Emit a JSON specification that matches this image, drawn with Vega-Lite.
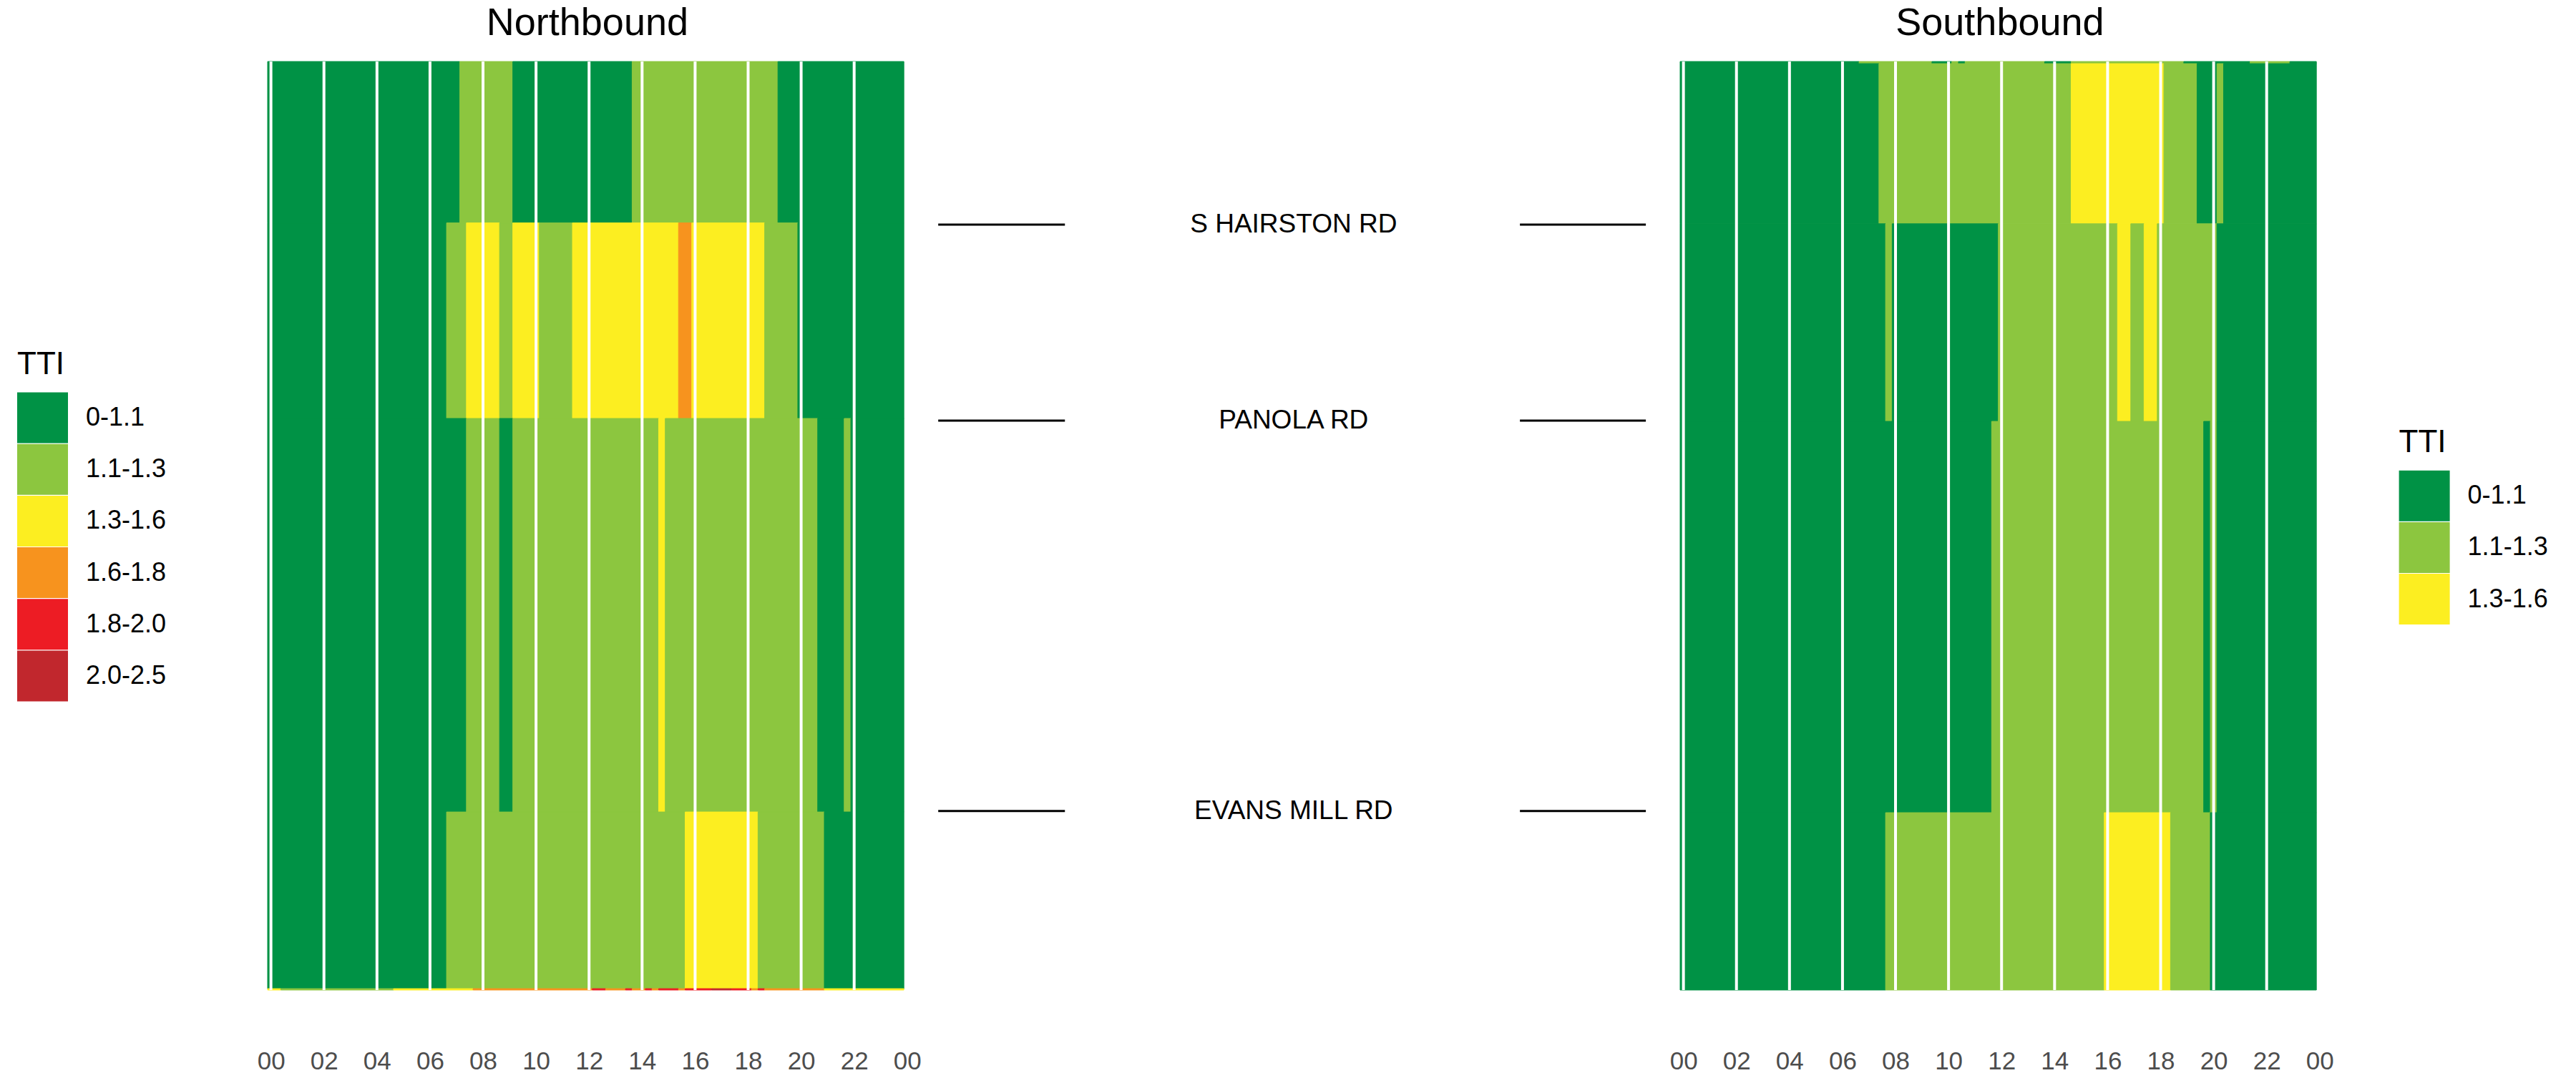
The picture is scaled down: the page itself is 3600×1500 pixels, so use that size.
{
  "$schema": "https://vega.github.io/schema/vega-lite/v6.json",
  "padding": {"left": 24, "top": 6, "right": 0, "bottom": 0},
  "background": "white",
  "config": {
    "font": "Liberation Sans",
    "view": {"stroke": null},
    "title": {"font": "Liberation Sans", "fontWeight": "normal", "color": "black"}
  },
  "datasets": {
    "nb": [
      {"seg": "NB-E", "mile_start": 0, "mile_end": 0.94, "t_start": -0.125, "t_end": 7.125, "tti": "0-1.1"},
      {"seg": "NB-E", "mile_start": 0, "mile_end": 0.94, "t_start": 7.125, "t_end": 9.125, "tti": "1.1-1.3"},
      {"seg": "NB-E", "mile_start": 0, "mile_end": 0.94, "t_start": 9.125, "t_end": 13.625, "tti": "0-1.1"},
      {"seg": "NB-E", "mile_start": 0, "mile_end": 0.94, "t_start": 13.625, "t_end": 19.125, "tti": "1.1-1.3"},
      {"seg": "NB-E", "mile_start": 0, "mile_end": 0.94, "t_start": 19.125, "t_end": 23.875, "tti": "0-1.1"},

      {"seg": "NB-D", "mile_start": 0.94, "mile_end": 2.079, "t_start": -0.125, "t_end": 6.625, "tti": "0-1.1"},
      {"seg": "NB-D", "mile_start": 0.94, "mile_end": 2.079, "t_start": 6.625, "t_end": 7.375, "tti": "1.1-1.3"},
      {"seg": "NB-D", "mile_start": 0.94, "mile_end": 2.079, "t_start": 7.375, "t_end": 8.625, "tti": "1.3-1.6"},
      {"seg": "NB-D", "mile_start": 0.94, "mile_end": 2.079, "t_start": 8.625, "t_end": 9.125, "tti": "1.1-1.3"},
      {"seg": "NB-D", "mile_start": 0.94, "mile_end": 2.079, "t_start": 9.125, "t_end": 10.125, "tti": "1.3-1.6"},
      {"seg": "NB-D", "mile_start": 0.94, "mile_end": 2.079, "t_start": 10.125, "t_end": 11.375, "tti": "1.1-1.3"},
      {"seg": "NB-D", "mile_start": 0.94, "mile_end": 2.079, "t_start": 11.375, "t_end": 15.375, "tti": "1.3-1.6"},
      {"seg": "NB-D", "mile_start": 0.94, "mile_end": 2.079, "t_start": 15.375, "t_end": 15.875, "tti": "1.6-1.8"},
      {"seg": "NB-D", "mile_start": 0.94, "mile_end": 2.079, "t_start": 15.875, "t_end": 18.625, "tti": "1.3-1.6"},
      {"seg": "NB-D", "mile_start": 0.94, "mile_end": 2.079, "t_start": 18.625, "t_end": 19.875, "tti": "1.1-1.3"},
      {"seg": "NB-D", "mile_start": 0.94, "mile_end": 2.079, "t_start": 19.875, "t_end": 23.875, "tti": "0-1.1"},

      {"seg": "NB-C", "mile_start": 2.079, "mile_end": 4.371, "t_start": -0.125, "t_end": 7.375, "tti": "0-1.1"},
      {"seg": "NB-C", "mile_start": 2.079, "mile_end": 4.371, "t_start": 7.375, "t_end": 8.625, "tti": "1.1-1.3"},
      {"seg": "NB-C", "mile_start": 2.079, "mile_end": 4.371, "t_start": 8.625, "t_end": 9.125, "tti": "0-1.1"},
      {"seg": "NB-C", "mile_start": 2.079, "mile_end": 4.371, "t_start": 9.125, "t_end": 14.625, "tti": "1.1-1.3"},
      {"seg": "NB-C", "mile_start": 2.079, "mile_end": 4.371, "t_start": 14.625, "t_end": 14.875, "tti": "1.3-1.6"},
      {"seg": "NB-C", "mile_start": 2.079, "mile_end": 4.371, "t_start": 14.875, "t_end": 20.625, "tti": "1.1-1.3"},
      {"seg": "NB-C", "mile_start": 2.079, "mile_end": 4.371, "t_start": 20.625, "t_end": 21.625, "tti": "0-1.1"},
      {"seg": "NB-C", "mile_start": 2.079, "mile_end": 4.371, "t_start": 21.625, "t_end": 21.875, "tti": "1.1-1.3"},
      {"seg": "NB-C", "mile_start": 2.079, "mile_end": 4.371, "t_start": 21.875, "t_end": 23.875, "tti": "0-1.1"},

      {"seg": "NB-B", "mile_start": 4.371, "mile_end": 5.4, "t_start": -0.125, "t_end": 6.625, "tti": "0-1.1"},
      {"seg": "NB-B", "mile_start": 4.371, "mile_end": 5.4, "t_start": 6.625, "t_end": 15.625, "tti": "1.1-1.3"},
      {"seg": "NB-B", "mile_start": 4.371, "mile_end": 5.4, "t_start": 15.625, "t_end": 18.375, "tti": "1.3-1.6"},
      {"seg": "NB-B", "mile_start": 4.371, "mile_end": 5.4, "t_start": 18.375, "t_end": 20.875, "tti": "1.1-1.3"},
      {"seg": "NB-B", "mile_start": 4.371, "mile_end": 5.4, "t_start": 20.875, "t_end": 23.875, "tti": "0-1.1"},

      {"seg": "NB-A", "mile_start": 5.4, "mile_end": 5.408, "t_start": -0.125, "t_end": 0.375, "tti": "1.3-1.6"},
      {"seg": "NB-A", "mile_start": 5.4, "mile_end": 5.408, "t_start": 0.375, "t_end": 4.625, "tti": "1.1-1.3"},
      {"seg": "NB-A", "mile_start": 5.4, "mile_end": 5.408, "t_start": 4.625, "t_end": 7.625, "tti": "1.3-1.6"},
      {"seg": "NB-A", "mile_start": 5.4, "mile_end": 5.408, "t_start": 7.625, "t_end": 12.125, "tti": "1.6-1.8"},
      {"seg": "NB-A", "mile_start": 5.4, "mile_end": 5.408, "t_start": 12.125, "t_end": 12.625, "tti": "1.8-2.0"},
      {"seg": "NB-A", "mile_start": 5.4, "mile_end": 5.408, "t_start": 12.625, "t_end": 13.375, "tti": "1.6-1.8"},
      {"seg": "NB-A", "mile_start": 5.4, "mile_end": 5.408, "t_start": 13.375, "t_end": 13.625, "tti": "1.8-2.0"},
      {"seg": "NB-A", "mile_start": 5.4, "mile_end": 5.408, "t_start": 13.625, "t_end": 14.125, "tti": "1.6-1.8"},
      {"seg": "NB-A", "mile_start": 5.4, "mile_end": 5.408, "t_start": 14.125, "t_end": 14.375, "tti": "1.8-2.0"},
      {"seg": "NB-A", "mile_start": 5.4, "mile_end": 5.408, "t_start": 14.375, "t_end": 14.625, "tti": "1.6-1.8"},
      {"seg": "NB-A", "mile_start": 5.4, "mile_end": 5.408, "t_start": 14.625, "t_end": 15.375, "tti": "1.8-2.0"},
      {"seg": "NB-A", "mile_start": 5.4, "mile_end": 5.408, "t_start": 15.375, "t_end": 15.625, "tti": "1.6-1.8"},
      {"seg": "NB-A", "mile_start": 5.4, "mile_end": 5.408, "t_start": 15.625, "t_end": 16.625, "tti": "1.8-2.0"},
      {"seg": "NB-A", "mile_start": 5.4, "mile_end": 5.408, "t_start": 16.625, "t_end": 17.375, "tti": "2.0-2.5"},
      {"seg": "NB-A", "mile_start": 5.4, "mile_end": 5.408, "t_start": 17.375, "t_end": 18.125, "tti": "1.8-2.0"},
      {"seg": "NB-A", "mile_start": 5.4, "mile_end": 5.408, "t_start": 18.125, "t_end": 18.375, "tti": "1.6-1.8"},
      {"seg": "NB-A", "mile_start": 5.4, "mile_end": 5.408, "t_start": 18.375, "t_end": 18.625, "tti": "1.8-2.0"},
      {"seg": "NB-A", "mile_start": 5.4, "mile_end": 5.408, "t_start": 18.625, "t_end": 20.875, "tti": "1.6-1.8"},
      {"seg": "NB-A", "mile_start": 5.4, "mile_end": 5.408, "t_start": 20.875, "t_end": 23.875, "tti": "1.3-1.6"}
    ],
    "sb": [
      {"seg": "SB-1", "mile_start": 0, "mile_end": 0.0125, "t_start": -0.125, "t_end": 6.625, "tti": "0-1.1"},
      {"seg": "SB-1", "mile_start": 0, "mile_end": 0.0125, "t_start": 6.625, "t_end": 9.375, "tti": "1.1-1.3"},
      {"seg": "SB-1", "mile_start": 0, "mile_end": 0.0125, "t_start": 9.375, "t_end": 10.125, "tti": "0-1.1"},
      {"seg": "SB-1", "mile_start": 0, "mile_end": 0.0125, "t_start": 10.125, "t_end": 10.375, "tti": "1.1-1.3"},
      {"seg": "SB-1", "mile_start": 0, "mile_end": 0.0125, "t_start": 10.375, "t_end": 10.625, "tti": "0-1.1"},
      {"seg": "SB-1", "mile_start": 0, "mile_end": 0.0125, "t_start": 10.625, "t_end": 13.625, "tti": "1.1-1.3"},
      {"seg": "SB-1", "mile_start": 0, "mile_end": 0.0125, "t_start": 13.625, "t_end": 14.625, "tti": "0-1.1"},
      {"seg": "SB-1", "mile_start": 0, "mile_end": 0.0125, "t_start": 14.625, "t_end": 18.875, "tti": "1.1-1.3"},
      {"seg": "SB-1", "mile_start": 0, "mile_end": 0.0125, "t_start": 18.875, "t_end": 21.375, "tti": "0-1.1"},
      {"seg": "SB-1", "mile_start": 0, "mile_end": 0.0125, "t_start": 21.375, "t_end": 22.875, "tti": "1.1-1.3"},
      {"seg": "SB-1", "mile_start": 0, "mile_end": 0.0125, "t_start": 22.875, "t_end": 23.875, "tti": "0-1.1"},

      {"seg": "SB-2", "mile_start": 0.0125, "mile_end": 0.945, "t_start": -0.125, "t_end": 7.375, "tti": "0-1.1"},
      {"seg": "SB-2", "mile_start": 0.0125, "mile_end": 0.945, "t_start": 7.375, "t_end": 14.625, "tti": "1.1-1.3"},
      {"seg": "SB-2", "mile_start": 0.0125, "mile_end": 0.945, "t_start": 14.625, "t_end": 18.125, "tti": "1.3-1.6"},
      {"seg": "SB-2", "mile_start": 0.0125, "mile_end": 0.945, "t_start": 18.125, "t_end": 19.375, "tti": "1.1-1.3"},
      {"seg": "SB-2", "mile_start": 0.0125, "mile_end": 0.945, "t_start": 19.375, "t_end": 20.125, "tti": "0-1.1"},
      {"seg": "SB-2", "mile_start": 0.0125, "mile_end": 0.945, "t_start": 20.125, "t_end": 20.375, "tti": "1.1-1.3"},
      {"seg": "SB-2", "mile_start": 0.0125, "mile_end": 0.945, "t_start": 20.375, "t_end": 23.875, "tti": "0-1.1"},

      {"seg": "SB-3", "mile_start": 0.945, "mile_end": 2.096, "t_start": -0.125, "t_end": 7.625, "tti": "0-1.1"},
      {"seg": "SB-3", "mile_start": 0.945, "mile_end": 2.096, "t_start": 7.625, "t_end": 7.875, "tti": "1.1-1.3"},
      {"seg": "SB-3", "mile_start": 0.945, "mile_end": 2.096, "t_start": 7.875, "t_end": 11.875, "tti": "0-1.1"},
      {"seg": "SB-3", "mile_start": 0.945, "mile_end": 2.096, "t_start": 11.875, "t_end": 16.375, "tti": "1.1-1.3"},
      {"seg": "SB-3", "mile_start": 0.945, "mile_end": 2.096, "t_start": 16.375, "t_end": 16.875, "tti": "1.3-1.6"},
      {"seg": "SB-3", "mile_start": 0.945, "mile_end": 2.096, "t_start": 16.875, "t_end": 17.375, "tti": "1.1-1.3"},
      {"seg": "SB-3", "mile_start": 0.945, "mile_end": 2.096, "t_start": 17.375, "t_end": 17.875, "tti": "1.3-1.6"},
      {"seg": "SB-3", "mile_start": 0.945, "mile_end": 2.096, "t_start": 17.875, "t_end": 20.125, "tti": "1.1-1.3"},
      {"seg": "SB-3", "mile_start": 0.945, "mile_end": 2.096, "t_start": 20.125, "t_end": 23.875, "tti": "0-1.1"},

      {"seg": "SB-4", "mile_start": 2.096, "mile_end": 4.375, "t_start": -0.125, "t_end": 11.625, "tti": "0-1.1"},
      {"seg": "SB-4", "mile_start": 2.096, "mile_end": 4.375, "t_start": 11.625, "t_end": 19.625, "tti": "1.1-1.3"},
      {"seg": "SB-4", "mile_start": 2.096, "mile_end": 4.375, "t_start": 19.625, "t_end": 19.875, "tti": "0-1.1"},
      {"seg": "SB-4", "mile_start": 2.096, "mile_end": 4.375, "t_start": 19.875, "t_end": 20.125, "tti": "1.1-1.3"},
      {"seg": "SB-4", "mile_start": 2.096, "mile_end": 4.375, "t_start": 20.125, "t_end": 23.875, "tti": "0-1.1"},

      {"seg": "SB-5", "mile_start": 4.375, "mile_end": 5.408, "t_start": -0.125, "t_end": 7.625, "tti": "0-1.1"},
      {"seg": "SB-5", "mile_start": 4.375, "mile_end": 5.408, "t_start": 7.625, "t_end": 15.875, "tti": "1.1-1.3"},
      {"seg": "SB-5", "mile_start": 4.375, "mile_end": 5.408, "t_start": 15.875, "t_end": 18.375, "tti": "1.3-1.6"},
      {"seg": "SB-5", "mile_start": 4.375, "mile_end": 5.408, "t_start": 18.375, "t_end": 19.875, "tti": "1.1-1.3"},
      {"seg": "SB-5", "mile_start": 4.375, "mile_end": 5.408, "t_start": 19.875, "t_end": 23.875, "tti": "0-1.1"}
    ],
    "grid": [
      {"hour": 0}, {"hour": 2}, {"hour": 4}, {"hour": 6}, {"hour": 8}, {"hour": 10},
      {"hour": 12}, {"hour": 14}, {"hour": 16}, {"hour": 18}, {"hour": 20}, {"hour": 22}
    ],
    "landmarks": [
      {"name": "S HAIRSTON RD", "mile": 0.95},
      {"name": "PANOLA RD", "mile": 2.092},
      {"name": "EVANS MILL RD", "mile": 4.365}
    ]
  },
  "hconcat": [
    {
      "width": 893.8,
      "height": 1298,
      "title": {"text": "Northbound", "fontSize": 54, "anchor": "middle", "offset": 24},
      "layer": [
        {
          "data": {"name": "nb"},
          "mark": {"type": "rect", "strokeWidth": 1},
          "encoding": {
            "x": {"field": "t_start", "type": "quantitative",
                  "scale": {"domain": [-0.125, 24], "nice": false, "zero": false},
                  "axis": {"values": [0, 2, 4, 6, 8, 10, 12, 14, 16, 18, 20, 22, 24],
                           "labelExpr": "datum.value >= 24 ? '00' : (datum.value < 10 ? '0' + datum.value : '' + datum.value)",
                           "title": null, "ticks": false, "tickSize": 0, "domain": false, "grid": false,
                           "labelFontSize": 35, "labelColor": "#4D4D4D", "labelPadding": 82,
                           "labelFlush": false, "labelOverlap": false, "labelFont": "Liberation Sans"}},
            "x2": {"field": "t_end"},
            "y": {"field": "mile_start", "type": "quantitative",
                  "scale": {"domain": [0, 5.408], "reverse": true, "nice": false, "zero": false},
                  "axis": null},
            "y2": {"field": "mile_end"},
            "color": {"field": "tti", "type": "nominal",
                      "scale": {"domain": ["0-1.1", "1.1-1.3", "1.3-1.6", "1.6-1.8", "1.8-2.0", "2.0-2.5"],
                                "range": ["#009245", "#8CC63F", "#FCEE21", "#F7931E", "#ED1C24", "#C1272D"]},
                      "legend": {"title": "TTI", "orient": "none", "legendX": -350, "legendY": 401.5,
                                 "padding": 0, "titleFontSize": 44, "titleFontWeight": "normal", "titleColor": "black",
                                 "titleFont": "Liberation Sans", "titlePadding": 17,
                                 "labelFontSize": 36, "labelColor": "black", "labelFont": "Liberation Sans",
                                 "labelOffset": 25, "symbolType": "square", "symbolSize": 5041,
                                 "symbolStrokeWidth": 0, "symbolOpacity": 1, "rowPadding": 1.2}},
            "stroke": {"field": "tti", "type": "nominal",
                       "scale": {"domain": ["0-1.1", "1.1-1.3", "1.3-1.6", "1.6-1.8", "1.8-2.0", "2.0-2.5"],
                                 "range": ["#009245", "#8CC63F", "#FCEE21", "#F7931E", "#ED1C24", "#C1272D"]},
                       "legend": null}
          }
        },
        {
          "data": {"name": "grid"},
          "mark": {"type": "rule", "color": "white", "strokeWidth": 4},
          "encoding": {"x": {"field": "hour", "type": "quantitative"}}
        }
      ]
    },
    {
      "width": 1079.6,
      "height": 1298,
      "data": {"name": "landmarks"},
      "layer": [
        {
          "mark": {"type": "rule", "color": "black", "strokeWidth": 3},
          "encoding": {
            "x": {"datum": 0.04, "type": "quantitative", "scale": {"domain": [0, 1], "nice": false, "zero": false}, "axis": null},
            "x2": {"datum": 0.204},
            "y": {"field": "mile", "type": "quantitative", "scale": {"domain": [0, 5.408], "reverse": true, "nice": false, "zero": false}, "axis": null}
          }
        },
        {
          "mark": {"type": "rule", "color": "black", "strokeWidth": 3},
          "encoding": {
            "x": {"datum": 0.793, "type": "quantitative"},
            "x2": {"datum": 0.956},
            "y": {"field": "mile", "type": "quantitative"}
          }
        },
        {
          "mark": {"type": "text", "fontSize": 37, "font": "Liberation Sans", "color": "black", "align": "center", "baseline": "middle"},
          "encoding": {
            "x": {"datum": 0.5, "type": "quantitative"},
            "y": {"field": "mile", "type": "quantitative"},
            "text": {"field": "name"}
          }
        }
      ]
    },
    {
      "width": 893.8,
      "height": 1298,
      "title": {"text": "Southbound", "fontSize": 54, "anchor": "middle", "offset": 24},
      "layer": [
        {
          "data": {"name": "sb"},
          "mark": {"type": "rect", "strokeWidth": 1},
          "encoding": {
            "x": {"field": "t_start", "type": "quantitative",
                  "scale": {"domain": [-0.125, 24], "nice": false, "zero": false},
                  "axis": {"values": [0, 2, 4, 6, 8, 10, 12, 14, 16, 18, 20, 22, 24],
                           "labelExpr": "datum.value >= 24 ? '00' : (datum.value < 10 ? '0' + datum.value : '' + datum.value)",
                           "title": null, "ticks": false, "tickSize": 0, "domain": false, "grid": false,
                           "labelFontSize": 35, "labelColor": "#4D4D4D", "labelPadding": 82,
                           "labelFlush": false, "labelOverlap": false, "labelFont": "Liberation Sans"}},
            "x2": {"field": "t_end"},
            "y": {"field": "mile_start", "type": "quantitative",
                  "scale": {"domain": [0, 5.408], "reverse": true, "nice": false, "zero": false},
                  "axis": null},
            "y2": {"field": "mile_end"},
            "color": {"field": "tti", "type": "nominal",
                      "scale": {"domain": ["0-1.1", "1.1-1.3", "1.3-1.6"],
                                "range": ["#009245", "#8CC63F", "#FCEE21"]},
                      "legend": {"title": "TTI", "orient": "none", "legendX": 1004.6, "legendY": 511.2,
                                 "padding": 0, "titleFontSize": 44, "titleFontWeight": "normal", "titleColor": "black",
                                 "titleFont": "Liberation Sans", "titlePadding": 16.5,
                                 "labelFontSize": 36, "labelColor": "black", "labelFont": "Liberation Sans",
                                 "labelOffset": 25, "symbolType": "square", "symbolSize": 5041,
                                 "symbolStrokeWidth": 0, "symbolOpacity": 1, "rowPadding": 1.2}},
            "stroke": {"field": "tti", "type": "nominal",
                       "scale": {"domain": ["0-1.1", "1.1-1.3", "1.3-1.6"],
                                 "range": ["#009245", "#8CC63F", "#FCEE21"]},
                       "legend": null}
          }
        },
        {
          "data": {"name": "grid"},
          "mark": {"type": "rule", "color": "white", "strokeWidth": 4},
          "encoding": {"x": {"field": "hour", "type": "quantitative"}}
        }
      ]
    }
  ],
  "spacing": 0,
  "bounds": "flush",
  "resolve": {
    "scale": {"color": "independent", "stroke": "independent", "x": "independent", "y": "independent"},
    "legend": {"color": "independent", "stroke": "independent"}
  }
}
